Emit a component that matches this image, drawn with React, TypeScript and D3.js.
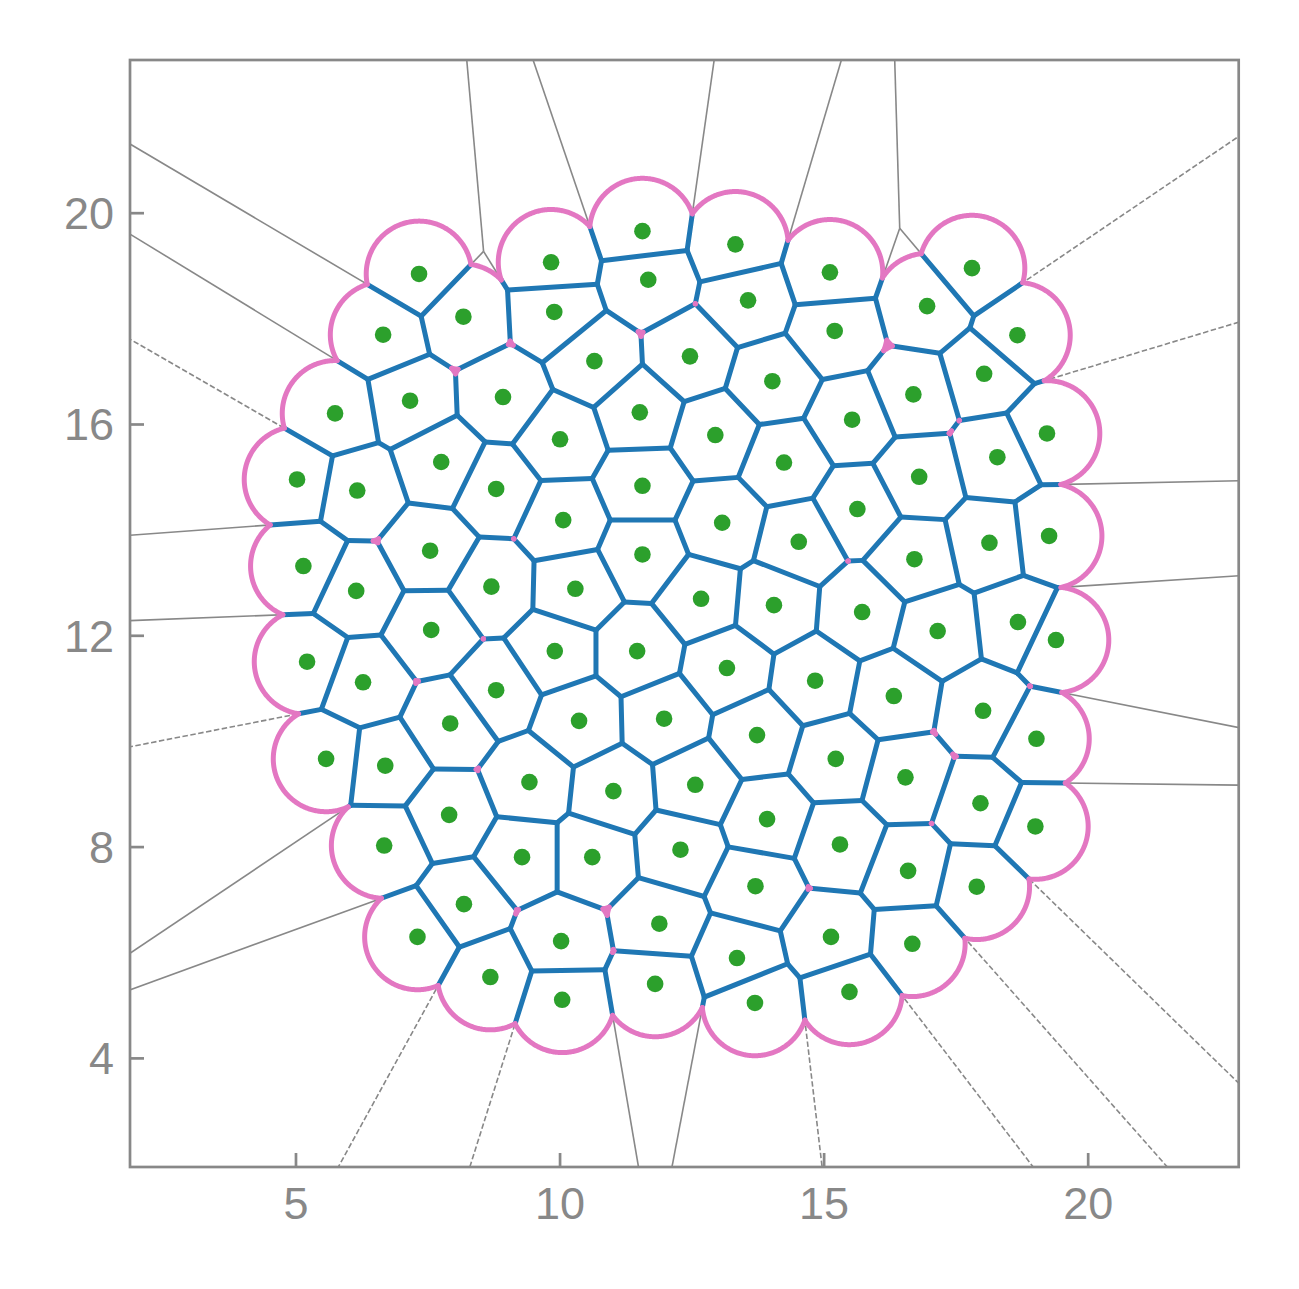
import React from 'react';
import * as d3 from 'd3';

// Site coordinates (data units)
const xs = [
  7.33, 9.83, 11.56, 13.32, 15.11, 17.80,
  6.65, 8.17, 9.89, 11.67, 13.56, 15.20, 16.95, 18.66,
  5.74, 7.16, 8.92, 10.65, 12.46, 14.02, 15.53, 16.69, 18.03, 19.22,
  5.02, 6.16, 7.75, 8.79, 10.00, 11.51, 12.94, 14.24, 15.63, 16.80, 18.28, 19.26,
  5.14, 6.14, 7.54, 8.70, 10.06, 11.56, 13.07, 14.52, 16.71, 18.13,
  5.21, 6.27, 7.56, 10.29, 11.56, 12.67, 14.05, 15.72, 17.15, 18.67, 19.39,
  5.57, 6.69, 7.92, 8.79, 9.90, 11.46, 13.16, 14.83, 16.32, 18.01, 19.02,
  6.67, 7.90, 9.42, 10.36, 11.01, 11.97, 13.73, 15.22, 16.54, 17.96, 19.00,
  12.56,
  7.30, 8.18, 9.28, 10.61, 12.28, 13.92, 15.30, 16.59, 17.89,
  8.68, 10.02, 11.88, 13.70, 15.13, 16.67,
  10.04, 11.80, 13.35, 13.69, 15.48,
];
const ys = [
  18.85, 19.07, 19.66, 19.41, 18.88, 18.96,
  17.70, 18.04, 18.13, 18.74, 18.35, 17.77, 18.24, 17.69,
  16.21, 16.45, 16.52, 17.20, 17.29, 16.82, 16.09, 16.57, 16.96, 15.83,
  14.96, 14.75, 15.29, 14.78, 15.72, 16.23, 15.80, 15.28, 14.40, 15.01, 15.38, 13.89,
  13.32, 12.85, 13.61, 12.93, 14.19, 14.84, 14.14, 13.78, 13.45, 13.76,
  11.51, 11.12, 12.11, 12.89, 13.54, 12.70, 12.58, 12.45, 12.09, 12.26, 11.92,
  9.67, 9.54, 10.34, 10.97, 11.71, 11.71, 11.39, 11.15, 10.86, 10.58, 10.05,
  8.03, 8.61, 9.23, 10.39, 9.06, 10.43, 10.12, 9.67, 9.32, 8.83, 8.39,
  9.18,
  6.30, 6.92, 7.81, 7.81, 7.95, 8.53, 8.05, 7.55, 7.25,
  5.54, 6.22, 6.55, 7.26, 6.30, 6.17,
  5.11, 5.41, 5.90, 5.05, 5.26,
];
const RADIUS = [1.0];
const xTicks = [5, 10, 15, 20];
const yTicks = [4, 8, 12, 16, 20];
const xDomain = [1.857, 22.85];
const yDomain = [1.944, 22.9];

const GRAY = '#888888';
const BLUE = '#1f77b4';
const PINK = '#e377c2';
const GREEN = '#2ca02c';

type P = [number, number];

export default function App() {
  const W = 1299, H = 1289;
  const L = 130, R = 1238.7, T = 60, B = 1167;
  const x = d3.scaleLinear().domain(xDomain).range([L, R]);
  const y = d3.scaleLinear().domain(yDomain).range([B, T]);
  const r = RADIUS[0];

  const pts: P[] = xs.map((v, i) => [v, ys[i]]);
  const del = d3.Delaunay.from(pts);
  const { triangles, halfedges } = del;
  const nt = triangles.length / 3;
  const cc: P[] = [];
  for (let t = 0; t < nt; t++) {
    const [ax, ay] = pts[triangles[3 * t]];
    const [bx, by] = pts[triangles[3 * t + 1]];
    const [cx, cy] = pts[triangles[3 * t + 2]];
    const d = 2 * (ax * (by - cy) + bx * (cy - ay) + cx * (ay - by));
    const a2 = ax * ax + ay * ay, b2 = bx * bx + by * by, c2 = cx * cx + cy * cy;
    cc.push([
      (a2 * (by - cy) + b2 * (cy - ay) + c2 * (ay - by)) / d,
      (a2 * (cx - bx) + b2 * (ax - cx) + c2 * (bx - ax)) / d,
    ]);
  }

  const cx0 = d3.mean(xs) as number, cy0 = d3.mean(ys) as number;
  const ptpX = (d3.max(xs) as number) - (d3.min(xs) as number);
  const ptpY = (d3.max(ys) as number) - (d3.min(ys) as number);
  const ptp = Math.max(ptpX, ptpY);
  const aspect = Math.max(ptpX, ptpY) / Math.min(ptpX, ptpY);

  type Seg = { p1: P; p2: P; a: number; b: number; ray: boolean };
  const segs: Seg[] = [];
  for (let e = 0; e < triangles.length; e++) {
    const e2 = halfedges[e];
    if (e2 >= 0 && e2 < e) continue;
    const a = triangles[e];
    const b = triangles[e % 3 === 2 ? e - 2 : e + 1];
    const t = Math.floor(e / 3);
    const P1 = cc[t];
    if (e2 >= 0) {
      segs.push({ p1: P1, p2: cc[Math.floor(e2 / 3)], a, b, ray: false });
    } else {
      const tx = pts[b][0] - pts[a][0], ty = pts[b][1] - pts[a][1];
      const len = Math.hypot(tx, ty);
      let nx = -ty / len, ny = tx / len;
      const mx = (pts[a][0] + pts[b][0]) / 2, my = (pts[a][1] + pts[b][1]) / 2;
      const s = Math.sign((mx - cx0) * nx + (my - cy0) * ny) || 1;
      nx *= s; ny *= s;
      const far = ptp * aspect;
      segs.push({ p1: P1, p2: [P1[0] + nx * far, P1[1] + ny * far], a, b, ray: true });
    }
  }

  // blue: part of each Voronoi edge inside both disks
  const blue: [P, P][] = [];
  for (const s of segs) {
    const A = pts[s.a], Bp = pts[s.b];
    const dx = Bp[0] - A[0], dy = Bp[1] - A[1];
    const d = Math.hypot(dx, dy);
    if (d >= 2 * r) continue;
    const h = Math.sqrt(r * r - (d * d) / 4);
    const M: P = [(A[0] + Bp[0]) / 2, (A[1] + Bp[1]) / 2];
    const u: P = [-dy / d, dx / d];
    const t1 = (s.p1[0] - M[0]) * u[0] + (s.p1[1] - M[1]) * u[1];
    const t2 = (s.p2[0] - M[0]) * u[0] + (s.p2[1] - M[1]) * u[1];
    const lo = Math.max(Math.min(t1, t2), -h);
    const hi = Math.min(Math.max(t1, t2), h);
    if (lo < hi) {
      blue.push([
        [M[0] + lo * u[0], M[1] + lo * u[1]],
        [M[0] + hi * u[0], M[1] + hi * u[1]],
      ]);
    }
  }

  // pink: part of each circle inside its own Voronoi cell
  const TWO_PI = Math.PI * 2;
  const norm = (a: number) => ((a % TWO_PI) + TWO_PI) % TWO_PI;
  const arcs: P[][] = [];
  pts.forEach((A, i) => {
    const excl: { phi: number; alpha: number }[] = [];
    pts.forEach((Bp, j) => {
      if (i === j) return;
      const dx = Bp[0] - A[0], dy = Bp[1] - A[1];
      const d = Math.hypot(dx, dy);
      if (d >= 2 * r) return;
      excl.push({ phi: Math.atan2(dy, dx), alpha: Math.acos(d / (2 * r)) });
    });
    const inside = (ang: number) => {
      for (const ex of excl) {
        let df = norm(ang - ex.phi);
        if (df > Math.PI) df -= TWO_PI;
        if (Math.abs(df) < ex.alpha) return false;
      }
      return true;
    };
    const bounds: number[] = [0];
    excl.forEach((ex) => { bounds.push(norm(ex.phi - ex.alpha)); bounds.push(norm(ex.phi + ex.alpha)); });
    bounds.sort((p, q) => p - q);
    const n = bounds.length;
    const subs = bounds.map((b0, k) => {
      const b1 = k + 1 < n ? bounds[k + 1] : bounds[0] + TWO_PI;
      return { s: b0, e: b1, ok: b1 - b0 > 1e-9 && inside((b0 + b1) / 2) };
    });
    const startIdx = subs.findIndex((sb) => !sb.ok);
    const runs: [number, number][] = [];
    if (startIdx < 0) {
      runs.push([0, TWO_PI]);
    } else {
      let cur: [number, number] | null = null;
      for (let k = 1; k <= n; k++) {
        const idx = (startIdx + k) % n;
        const sb = subs[idx];
        let s0 = sb.s, e0 = sb.e;
        if (cur && s0 < cur[1] - 1e-9) { s0 += TWO_PI; e0 += TWO_PI; }
        if (sb.ok) {
          if (cur) cur[1] = Math.max(cur[1], e0);
          else cur = [s0, e0];
        } else if (cur) {
          runs.push(cur);
          cur = null;
        }
      }
      if (cur) runs.push(cur);
    }
    runs.forEach(([s0, e0]) => {
      let span = e0 - s0;
      while (span < 0) span += TWO_PI;
      const steps = Math.max(2, Math.ceil(span / (Math.PI / 180)));
      const arr: P[] = [];
      for (let k = 0; k <= steps; k++) {
        const ang = s0 + (span * k) / steps;
        arr.push([A[0] + r * Math.cos(ang), A[1] + r * Math.sin(ang)]);
      }
      arcs.push(arr);
    });
  });

  const line = d3.line<P>().x((p) => x(p[0])).y((p) => y(p[1]));

  return (
    <svg width={W} height={H} style={{ position: 'absolute', left: 0, top: 0, background: '#fff' }}
      fontFamily="'Liberation Sans', Arial, Helvetica, sans-serif">
      <defs>
        <clipPath id="plotclip">
          <rect x={L} y={T} width={R - L} height={B - T} />
        </clipPath>
      </defs>
      <g clipPath="url(#plotclip)">
        {segs.map((s, i) => (
          <line key={'g' + i} x1={x(s.p1[0])} y1={y(s.p1[1])} x2={x(s.p2[0])} y2={y(s.p2[1])}
            stroke={GRAY} strokeWidth={1.6} strokeDasharray={s.ray ? '5.5,2.5' : undefined} />
        ))}
        {blue.map((s, i) => (
          <line key={'b' + i} x1={x(s[0][0])} y1={y(s[0][1])} x2={x(s[1][0])} y2={y(s[1][1])}
            stroke={BLUE} strokeWidth={5} strokeLinecap="round" />
        ))}
        {arcs.map((a, i) => (
          <path key={'p' + i} d={line(a) as string} fill="none" stroke={PINK} strokeWidth={5}
            strokeLinecap="round" strokeLinejoin="round" />
        ))}
        {pts.map((p, i) => (
          <circle key={'c' + i} cx={x(p[0])} cy={y(p[1])} r={8.3} fill={GREEN} />
        ))}
      </g>
      <rect x={L} y={T} width={R - L} height={B - T} fill="none" stroke={GRAY} strokeWidth={2.7} />
      {xTicks.map((t) => (
        <g key={'xt' + t}>
          <line x1={x(t)} x2={x(t)} y1={B} y2={B - 14} stroke={GRAY} strokeWidth={2.7} />
          <text x={x(t)} y={B + 52} textAnchor="middle" fontSize={45} fill={GRAY}>{t}</text>
        </g>
      ))}
      {yTicks.map((t) => (
        <g key={'yt' + t}>
          <line x1={L} x2={L + 14} y1={y(t)} y2={y(t)} stroke={GRAY} strokeWidth={2.7} />
          <text x={L - 16} y={y(t) + 16} textAnchor="end" fontSize={45} fill={GRAY}>{t}</text>
        </g>
      ))}
    </svg>
  );
}
